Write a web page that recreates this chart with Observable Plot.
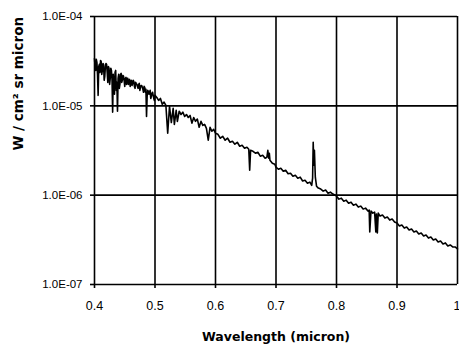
<!DOCTYPE html>
<html><head><meta charset="utf-8">
<script src="https://cdn.jsdelivr.net/npm/d3@7"></script>
<script src="https://cdn.jsdelivr.net/npm/@observablehq/plot@0.6"></script>
<style>body{margin:0;background:#fff}</style>
</head><body><div id="chart"></div>
<script>
const xTicks = [0.4, 0.5, 0.6, 0.7, 0.8, 0.9, 1.0];
const xTickLabels = ["0.4", "0.5", "0.6", "0.7", "0.8", "0.9", "1"];
const yTicks = [1e-7, 1e-6, 1e-5, 1e-4];
const yTickLabels = ["1.0E-07", "1.0E-06", "1.0E-05", "1.0E-04"];
const xTitle = "Wavelength (micron)";
const yTitle = "W / cm² sr micron";

const wavelength = [
  0.400,0.401,0.402,0.403,0.404,0.405,0.406,0.407,0.408,0.409,
  0.410,0.411,0.412,0.413,0.414,0.415,0.416,0.417,0.418,0.419,
  0.420,0.421,0.422,0.423,0.424,0.425,0.426,0.427,0.428,0.429,
  0.430,0.431,0.432,0.433,0.434,0.435,0.436,0.437,0.438,0.439,
  0.440,0.441,0.442,0.443,0.444,0.445,0.446,0.447,0.448,0.449,
  0.450,0.451,0.452,0.453,0.454,0.455,0.456,0.457,0.458,0.459,
  0.460,0.461,0.462,0.463,0.464,0.465,0.466,0.467,0.468,0.469,
  0.470,0.471,0.472,0.473,0.474,0.475,0.476,0.477,0.478,0.479,
  0.480,0.481,0.482,0.483,0.484,0.485,0.486,0.487,0.488,0.489,
  0.490,0.491,0.492,0.493,0.494,0.495,0.496,0.497,0.498,0.499,
  0.500,
  0.503,0.506,0.509,0.512,0.515,0.518,0.521,0.524,0.527,0.530,
  0.532,0.535,0.537,0.540,0.543,0.546,0.549,0.552,0.555,0.558,
  0.561,0.564,0.567,0.570,0.573,0.576,0.579,0.582,0.585,0.588,
  0.591,0.594,0.597,0.600,
  0.604,0.608,0.612,0.616,0.620,0.624,0.628,0.632,0.636,0.640,
  0.644,0.648,0.652,0.655,0.6565,0.658,0.662,0.666,0.670,0.674,
  0.678,0.682,0.685,0.6865,0.688,0.689,0.690,0.694,0.698,0.700,
  0.704,0.708,0.712,0.716,0.720,0.724,0.728,0.732,0.736,0.740,
  0.744,0.748,0.752,0.756,0.759,0.7605,0.7615,0.7625,0.7635,0.765,
  0.767,0.770,0.774,0.778,0.782,0.786,0.790,0.794,0.798,0.800,
  0.804,0.808,0.812,0.816,0.820,0.824,0.828,0.832,0.836,0.840,
  0.844,0.848,0.852,0.854,0.855,0.857,0.860,0.863,0.865,0.866,
  0.8675,0.869,0.872,0.876,0.880,0.884,0.888,0.892,0.896,0.900,
  0.904,0.908,0.912,0.916,0.920,0.924,0.928,0.932,0.936,0.940,
  0.944,0.948,0.952,0.956,0.960,0.964,0.968,0.972,0.976,0.980,
  0.984,0.988,0.992,0.996,1.000
];

const radiance = [
  3.39e-5,2.69e-5,2.49e-5,3.31e-5,3.06e-5,2.25e-5,1.31e-5,2.76e-5,2.91e-5,2.37e-5,
  3.22e-5,3.14e-5,2.25e-5,2.49e-5,2.98e-5,2.91e-5,1.93e-5,2.14e-5,2.76e-5,2.98e-5,
  2.91e-5,2.37e-5,1.83e-5,2.76e-5,2.63e-5,1.74e-5,2.03e-5,2.63e-5,2.49e-5,1.93e-5,
  8.5e-6,2.25e-5,1.65e-5,1.35e-5,2.37e-5,2.49e-5,1.49e-5,1.83e-5,8.7e-6,2.03e-5,
  2.25e-5,1.57e-5,1.74e-5,2.25e-5,2.31e-5,1.83e-5,1.93e-5,2.19e-5,2.14e-5,1.93e-5,
  1.65e-5,2.03e-5,2.08e-5,1.74e-5,2.03e-5,2.03e-5,1.74e-5,1.93e-5,1.98e-5,1.65e-5,
  1.88e-5,1.93e-5,1.69e-5,1.78e-5,1.93e-5,1.88e-5,1.65e-5,1.57e-5,1.83e-5,1.78e-5,
  1.74e-5,1.65e-5,1.57e-5,1.74e-5,1.78e-5,1.49e-5,1.61e-5,1.69e-5,1.69e-5,1.61e-5,
  1.53e-5,1.42e-5,1.65e-5,1.61e-5,1.42e-5,1.53e-5,7.6e-6,1.28e-5,1.49e-5,1.45e-5,
  1.35e-5,1.42e-5,1.49e-5,1.21e-5,1.28e-5,1.38e-5,1.42e-5,1.31e-5,1.21e-5,1.15e-5,
  1.31e-5,
  1.24e-5,1.15e-5,1.21e-5,1.04e-5,1.10e-5,1.01e-5,4.93e-6,9.9e-6,6.5e-6,9.4e-6,
  6.2e-6,8.9e-6,6.7e-6,8.7e-6,8.0e-6,8.5e-6,7.6e-6,8.0e-6,7.4e-6,7.8e-6,
  6.4e-6,7.4e-6,6.7e-6,7.1e-6,5.75e-6,6.7e-6,6.05e-6,6.2e-6,5.6e-6,4.12e-6,
  5.75e-6,5.19e-6,5.46e-6,4.93e-6,
  4.80e-6,4.34e-6,4.56e-6,4.12e-6,4.34e-6,3.91e-6,4.01e-6,3.72e-6,3.91e-6,3.53e-6,
  3.62e-6,3.35e-6,3.44e-6,3.27e-6,1.90e-6,3.18e-6,3.10e-6,2.95e-6,3.02e-6,2.73e-6,
  2.80e-6,2.59e-6,2.66e-6,3.18e-6,2.59e-6,2.95e-6,2.46e-6,2.28e-6,2.22e-6,2.06e-6,
  1.95e-6,2.00e-6,1.85e-6,1.90e-6,1.74e-6,1.76e-6,1.63e-6,1.67e-6,1.55e-6,1.59e-6,
  1.44e-6,1.47e-6,1.36e-6,1.40e-6,1.29e-6,1.55e-6,3.91e-6,2.16e-6,3.18e-6,1.59e-6,
  1.26e-6,1.20e-6,1.17e-6,1.11e-6,1.14e-6,1.05e-6,1.08e-6,1.03e-6,1.00e-6,9.75e-7,
  9.03e-7,9.26e-7,8.57e-7,8.80e-7,8.14e-7,8.35e-7,7.73e-7,7.94e-7,7.35e-7,7.54e-7,
  6.98e-7,7.16e-7,6.63e-7,6.80e-7,3.87e-7,6.63e-7,6.30e-7,6.46e-7,3.87e-7,6.14e-7,
  3.77e-7,6.30e-7,5.83e-7,5.98e-7,5.54e-7,5.68e-7,5.26e-7,5.40e-7,5.00e-7,4.87e-7,
  4.51e-7,4.63e-7,4.28e-7,4.40e-7,4.07e-7,4.18e-7,3.87e-7,3.97e-7,3.67e-7,3.77e-7,
  3.49e-7,3.58e-7,3.31e-7,3.40e-7,3.15e-7,3.23e-7,2.99e-7,3.07e-7,2.84e-7,2.92e-7,
  2.70e-7,2.77e-7,2.63e-7,2.63e-7,2.50e-7
];

const data = wavelength.map((w, i) => ({w, v: radiance[i]}));
const lastTick = xTicks[xTicks.length - 1];

const chart = Plot.plot({
  width: 459,
  height: 352,
  marginLeft: 94,
  marginRight: 2,
  marginTop: 16,
  marginBottom: 68,
  style: {background: "#fff", color: "#000", fontFamily: "'Liberation Sans', Arial, sans-serif", fontSize: "11.5px"},
  x: {domain: [0.4, 1.0]},
  y: {type: "log", domain: [1e-7, 1e-4]},
  marks: [
    Plot.ruleX(xTicks, {stroke: "#000", strokeWidth: 1.6}),
    Plot.ruleY(yTicks, {stroke: "#000", strokeWidth: 1.6}),
    Plot.line(data, {x: "w", y: "v", stroke: "#000", strokeWidth: 1.6}),
    Plot.axisX(xTicks.slice(0, -1), {tickSize: 4, tickPadding: 13, tickFormat: d => xTickLabels[xTicks.indexOf(d)], fontSize: 12.5, label: null, strokeWidth: 1.6}),
    Plot.axisX([lastTick], {tickSize: 4, tickPadding: 13, tickFormat: d => xTickLabels[xTicks.indexOf(d)], fontSize: 12.5, label: null, strokeWidth: 1.6, textAnchor: "end", dx: 3}),
    Plot.axisY(yTicks, {tickSize: 4, tickPadding: 8, tickFormat: d => yTickLabels[yTicks.indexOf(d)], fontSize: 11.5, label: null, strokeWidth: 1.6}),
    Plot.text([xTitle], {text: d => d, frameAnchor: "bottom", dy: 56, fontWeight: "bold", fontSize: 12.5, fontFamily: "DejaVu Sans"}),
    Plot.text([yTitle], {text: d => d, frameAnchor: "left", dx: -76, rotate: -90, fontWeight: "bold", fontSize: 13.5, fontFamily: "DejaVu Sans"})
  ]
});
document.getElementById("chart").appendChild(chart);
</script>
</body></html>
